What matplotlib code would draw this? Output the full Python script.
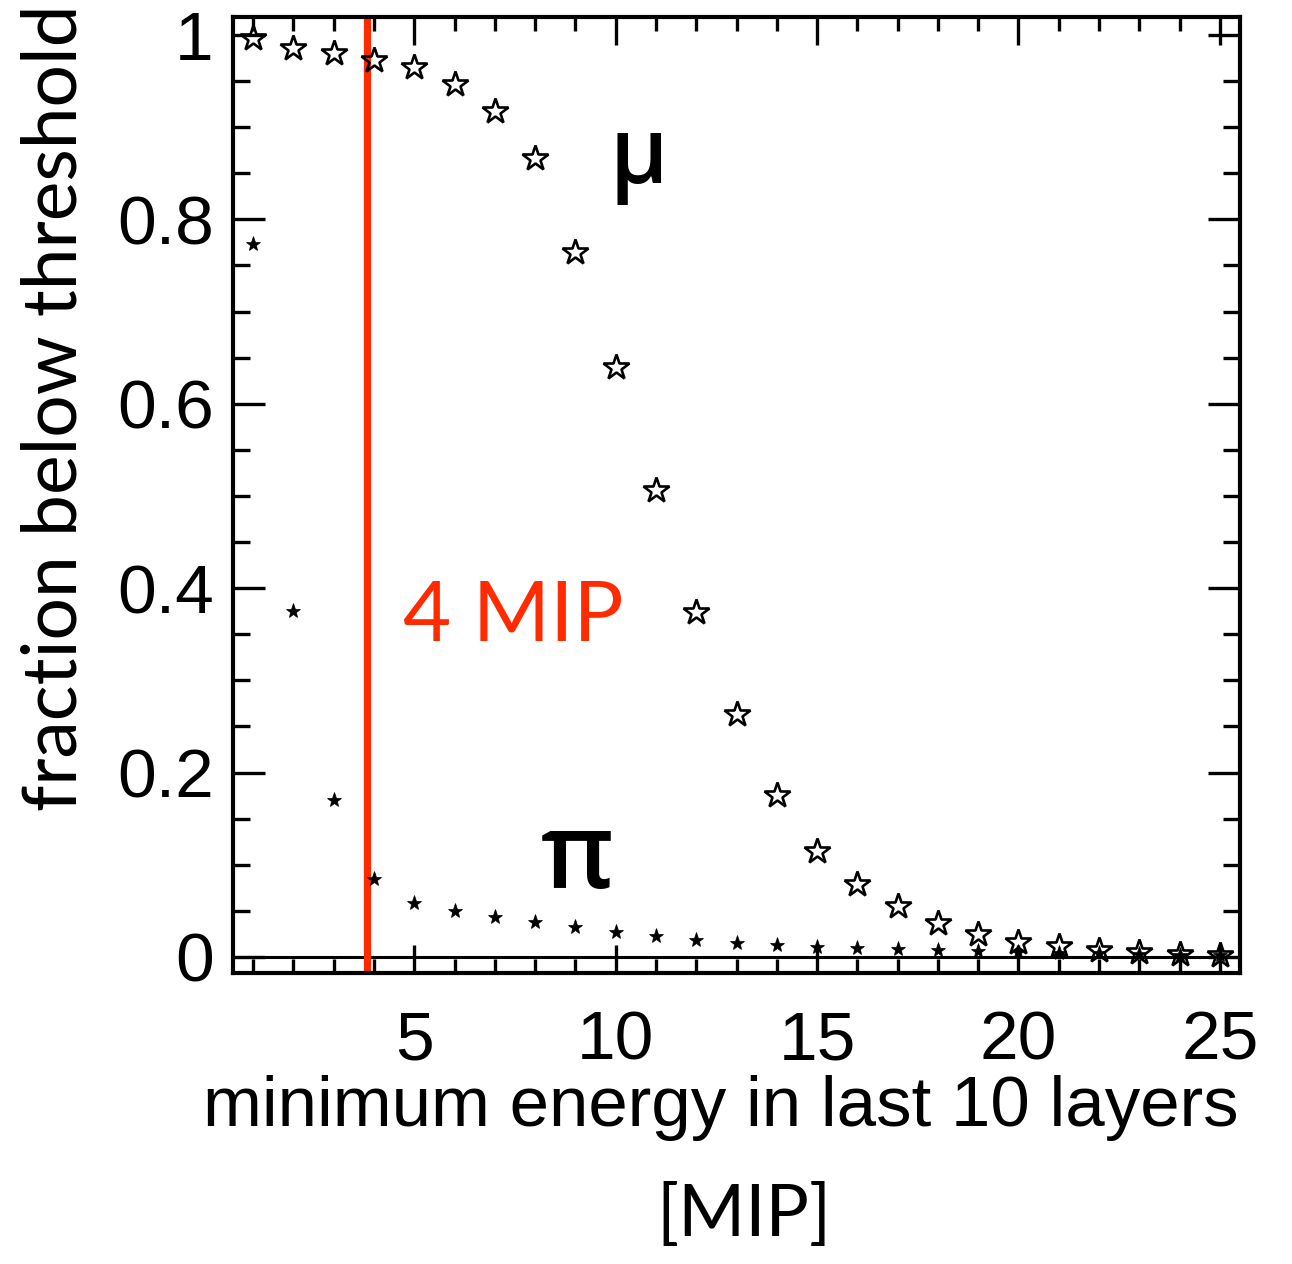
import matplotlib
matplotlib.use("Agg")
import matplotlib.pyplot as plt
from matplotlib.ticker import MultipleLocator, FixedLocator

# ---- data ----
energy_threshold = [1, 2, 3, 4, 5, 6, 7, 8, 9, 10, 11, 12, 13, 14, 15, 16, 17, 18, 19, 20, 21, 22, 23, 24, 25]
muon_fraction = [0.997, 0.986, 0.980, 0.973, 0.965, 0.947, 0.918, 0.867, 0.765, 0.640,
                 0.506, 0.374, 0.264, 0.176, 0.115, 0.079, 0.055, 0.037, 0.025, 0.016,
                 0.012, 0.008, 0.005, 0.003, 0.002]
pion_fraction = [0.773, 0.375, 0.170, 0.085, 0.059, 0.050, 0.043, 0.038, 0.033, 0.027,
                 0.023, 0.018, 0.015, 0.013, 0.011, 0.010, 0.009, 0.008, 0.007, 0.005,
                 0.004, 0.004, 0.003, 0.002, 0.002]
cut_value = 3.83
x_ticks = [5, 10, 15, 20, 25]
y_ticks = [0, 0.2, 0.4, 0.6, 0.8, 1]
y_tick_labels = ["0", "0.2", "0.4", "0.6", "0.8", "1"]

W, H = 1292, 1264
fig = plt.figure(figsize=(W / 100, H / 100), dpi=100)
ax = fig.add_axes([233 / W, 1 - 973 / H, (1240 - 233) / W, (973 - 17) / H])

ax.set_xlim(0.5, 25.5)
ax.set_ylim(-0.0174, 1.0195)

ax.axhline(0, color="black", lw=2.2, zorder=1)
ax.axvline(cut_value, color="#ff2a00", lw=5.2, zorder=2)

ax.plot(energy_threshold, muon_fraction, linestyle="none", marker="*", markersize=19,
        markerfacecolor="none", markeredgecolor="black", markeredgewidth=1.9, zorder=3)
ax.plot(energy_threshold, pion_fraction, linestyle="none", marker="*", markersize=11,
        markerfacecolor="black", markeredgecolor="black", markeredgewidth=0.5, zorder=4)

for s in ax.spines.values():
    s.set_linewidth(3)

ax.xaxis.set_major_locator(FixedLocator(x_ticks))
ax.xaxis.set_minor_locator(MultipleLocator(1))
ax.yaxis.set_major_locator(FixedLocator(y_ticks))
ax.yaxis.set_minor_locator(MultipleLocator(0.05))
ax.set_yticklabels(y_tick_labels)

tickfont = "Liberation Sans"
ax.tick_params(axis="x", which="major", direction="in", length=20, width=2.4,
               top=True, bottom=True, pad=26, labelsize=50)
ax.tick_params(axis="x", which="minor", direction="in", length=10, width=2.4,
               top=True, bottom=True)
ax.tick_params(axis="y", which="major", direction="in", length=23, width=2.4,
               left=True, right=True, pad=14, labelsize=50)
ax.tick_params(axis="y", which="minor", direction="in", length=12, width=2.4,
               left=True, right=True)
for lab in ax.get_xticklabels() + ax.get_yticklabels():
    lab.set_fontfamily(tickfont)

humanist = ["Lato", "Open Sans", "DejaVu Sans"]
greek = ["Open Sans", "DejaVu Sans"]

fig.text(721 / W, 1 - 1108 / H, "minimum energy in last 10 layers", ha="center", va="center",
         fontsize=51, family=tickfont)
fig.text(744 / W, 1 - 1216 / H, "[MIP]", ha="center", va="center", fontsize=52, family=humanist)
fig.text(55 / W, 1 - 408 / H, "fraction below threshold", ha="center", va="center",
         rotation=90, fontsize=54, family=humanist)

ax.text(4.72, 0.368, "4 MIP", color="#ff2a00", fontsize=60, family=humanist,
        ha="left", va="center")
ax.text(9.85, 0.865, "μ", fontsize=66, fontweight="semibold", family=greek,
        ha="left", va="center")
ax.text(8.15, 0.105, "π", fontsize=76, fontweight="semibold", family=greek,
        ha="left", va="center")

fig.savefig("out.png", dpi=100)
